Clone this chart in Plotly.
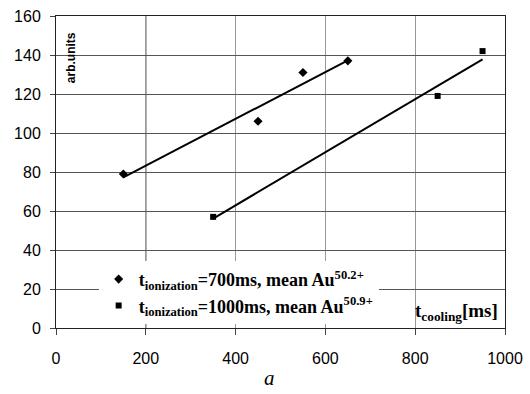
import numpy as np
import plotly.graph_objects as go

# Data
x_700 = [150, 450, 550, 650]
y_700 = [79, 106, 131, 137]
x_1000 = [350, 850, 950]
y_1000 = [57, 119, 142]

name_700 = "<b>t<sub>ionization</sub>=700ms, mean Au<sup>50.2+</sup></b>"
name_1000 = "<b>t<sub>ionization</sub>=1000ms, mean Au<sup>50.9+</sup></b>"

x_ticks = [0, 200, 400, 600, 800, 1000]
y_ticks = [0, 20, 40, 60, 80, 100, 120, 140, 160]


def trend(xs, ys):
    k, b = np.polyfit(xs, ys, 1)
    xe = np.array([min(xs), max(xs)], dtype=float)
    return xe, k * xe + b


fig = go.Figure()

tx, ty = trend(x_700, y_700)
fig.add_trace(go.Scatter(x=tx, y=ty, mode="lines", line=dict(color="black", width=2),
                         showlegend=False, hoverinfo="skip"))
tx2, ty2 = trend(x_1000, y_1000)
fig.add_trace(go.Scatter(x=tx2, y=ty2, mode="lines", line=dict(color="black", width=2),
                         showlegend=False, hoverinfo="skip"))

fig.add_trace(go.Scatter(x=x_700, y=y_700, mode="markers", name=name_700,
                         marker=dict(symbol="diamond", size=7, color="black")))
fig.add_trace(go.Scatter(x=x_1000, y=y_1000, mode="markers", name=name_1000,
                         marker=dict(symbol="square", size=6, color="black")))

# darker gridline at x=200 as in the original
fig.add_shape(type="line", xref="x", yref="paper", x0=200, x1=200, y0=0, y1=1,
              line=dict(color="black", width=1), layer="below")

fig.update_layout(
    width=530, height=394,
    margin=dict(l=56, r=25, t=16, b=66, autoexpand=False),
    paper_bgcolor="white", plot_bgcolor="white",
    font=dict(family="Liberation Sans, Arial", size=16, color="black"),
    xaxis=dict(range=[0, 1000], tickvals=x_ticks, showgrid=True, gridcolor="#999",
               gridwidth=1, showline=True, linecolor="#222", linewidth=1, mirror=True,
               ticks="outside", ticklen=6, tickcolor="#444", zeroline=False,
               ticklabelstandoff=10, tickfont=dict(size=16, color="black"), automargin=False),
    yaxis=dict(range=[0, 160], tickvals=y_ticks, showgrid=True, gridcolor="#555",
               gridwidth=1, showline=True, linecolor="#222", linewidth=1, mirror=True,
               ticks="outside", ticklen=5, tickcolor="#444", zeroline=False,
               ticklabelstandoff=6, tickfont=dict(size=16, color="black"), automargin=False),
    legend=dict(x=0.095, y=0.215, xanchor="left", yanchor="top",
                bgcolor="white", borderwidth=0, tracegroupgap=0,
                font=dict(family="Liberation Serif, Times New Roman", size=18, color="black"),
                itemsizing="trace"),
    showlegend=True,
)

fig.add_annotation(xref="paper", yref="paper", x=1, y=0.05, xanchor="right", yanchor="middle",
                   xshift=-5, showarrow=False,
                   text="<b>t<sub>cooling</sub>[ms]</b>",
                   font=dict(family="Liberation Serif, Times New Roman", size=19, color="black"))
fig.add_annotation(xref="paper", yref="paper", x=0.0334, y=0.868, xanchor="center", yanchor="middle",
                   textangle=-90, showarrow=False, text="<b>arb.units</b>",
                   font=dict(family="Liberation Sans, Arial", size=12, color="black"))
fig.add_annotation(xref="paper", yref="paper", x=0.4766, y=-0.16, xanchor="center", yanchor="middle",
                   showarrow=False, text="<i>a</i>",
                   font=dict(family="Liberation Serif, Times New Roman", size=21, color="black"))

fig.write_html("out.html")
